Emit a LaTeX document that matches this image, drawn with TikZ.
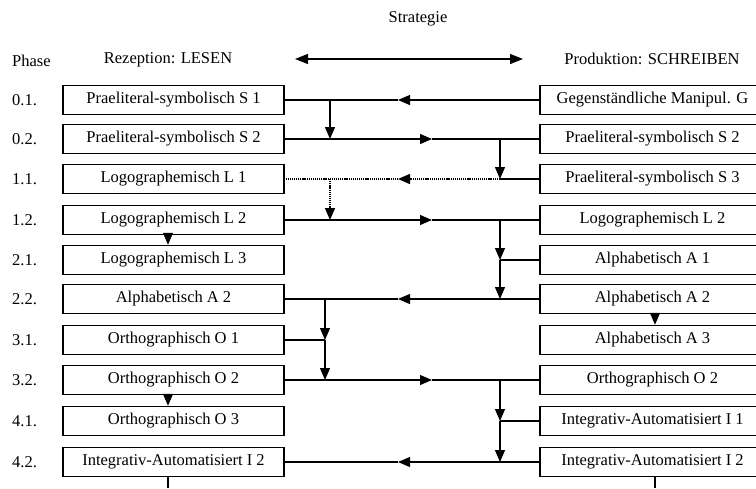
\documentclass[tikz,border=0pt]{standalone}
\usepackage{fontspec}
\setmainfont{Liberation Serif}
\usetikzlibrary{arrows.meta}
\begin{document}
\begin{tikzpicture}[x=1pt,y=-1pt,
  box/.style={draw,line width=1.5pt,minimum height=29pt,inner sep=0pt,font=\fontsize{16.5}{18}\selectfont},
  lbox/.style={box,minimum width=221pt},
  rbox/.style={box,minimum width=225pt},
  lab/.style={font=\fontsize{16.5}{18}\selectfont,inner sep=0pt},
  conn/.style={line width=1.1pt},
  dotconn/.style={conn,line width=1.4pt,dash pattern=on 1.2pt off 0.9pt},
  tip/.style={-{Triangle[length=12pt,width=10pt]}},
  dtip/.style={{Triangle[length=13pt,width=10pt]}-{Triangle[length=13pt,width=10pt]}},
]
\useasboundingbox (0,0) rectangle (756,488);
\clip (0,0) rectangle (756,488);

% header
\node[lab] (strat) at (418,19) {Strategie};
\node[lab,anchor=west] (phase) at (12,61) {Phase};
\node[lab] (rez) at (168,60) {Rezeption: LESEN};
\node[lab] (prod) at (652,59) {Produktion: SCHREIBEN};
\coordinate (hl) at (295,59);
\coordinate (hr) at (523,59);
\draw[conn,line width=1.4pt,dtip] (hl) -- (hr);

% phase labels
\foreach \t/\y [count=\i] in {0.1./100,0.2./139,1.1./179,1.2./220,2.1./260,2.2./299,3.1./340,3.2./380,4.1./421,4.2./462}
  \node[lab,anchor=west] (p\i) at (12,\y) {\t};

% left boxes
\node[lbox] (l1) at (173.5,100) {Praeliteral-symbolisch S 1};
\node[lbox] (l2) at (173.5,139) {Praeliteral-symbolisch S 2};
\node[lbox] (l3) at (173.5,179) {Logographemisch L 1};
\node[lbox] (l4) at (173.5,220) {Logographemisch L 2};
\node[lbox] (l5) at (173.5,260) {Logographemisch L 3};
\node[lbox] (l6) at (173.5,299) {Alphabetisch A 2};
\node[lbox] (l7) at (173.5,340) {Orthographisch O 1};
\node[lbox] (l8) at (173.5,380) {Orthographisch O 2};
\node[lbox] (l9) at (173.5,421) {Orthographisch O 3};
\node[lbox] (l10) at (173.5,462) {Integrativ-Automatisiert I 2};

% right boxes
\node[rbox] (r1) at (652.5,100) {Gegenständliche Manipul. G};
\node[rbox] (r2) at (652.5,139) {Praeliteral-symbolisch S 2};
\node[rbox] (r3) at (652.5,179) {Praeliteral-symbolisch S 3};
\node[rbox] (r4) at (652.5,220) {Logographemisch L 2};
\node[rbox] (r5) at (652.5,260) {Alphabetisch A 1};
\node[rbox] (r6) at (652.5,299) {Alphabetisch A 2};
\node[rbox] (r7) at (652.5,340) {Alphabetisch A 3};
\node[rbox] (r8) at (652.5,380) {Orthographisch O 2};
\node[rbox] (r9) at (652.5,421) {Integrativ-Automatisiert I 1};
\node[rbox] (r10) at (652.5,462) {Integrativ-Automatisiert I 2};

% arrow tip coordinates on horizontals
\coordinate (t1) at (398,100);
\coordinate (t2) at (432,139);
\coordinate (t3) at (398,179);
\coordinate (t4) at (432,220);
\coordinate (t6) at (398,299);
\coordinate (t8) at (432,380);
\coordinate (t10) at (398,462);
% junctions
\coordinate (ja1) at (330,100);
\coordinate (ja2) at (330,139);
\coordinate (jb2) at (500,139);
\coordinate (jb3) at (500,179);
\coordinate (ja3) at (330,179);
\coordinate (ja4) at (330,220);
\coordinate (jb4) at (500,220);
\coordinate (jb5) at (500,260);
\coordinate (jb6) at (500,299);
\coordinate (jc6) at (325,299);
\coordinate (jc7) at (325,340);
\coordinate (jc8) at (325,380);
\coordinate (jb8) at (500,380);
\coordinate (jb9) at (500,421);
\coordinate (jb10) at (500,462);
\coordinate (lx) at (168,488);
\coordinate (rx) at (655,488);

% row 0.1
\draw[conn,tip] (r1.west) -- (t1);
\draw[conn] (t1) -- (l1.east);
\draw[conn,tip] (ja1) -- (ja2);
% row 0.2
\draw[conn,tip] (l2.east) -- (t2);
\draw[conn] (t2) -- (r2.west);
\draw[conn,tip] (jb2) -- (jb3);
% row 1.1
\draw[conn] (r3.west) -- (jb3);
\draw[dotconn,tip] (jb3) -- (t3);
\draw[dotconn] (t3) -- (l3.east);
\draw[dotconn,tip] (ja3) -- (ja4);
% row 1.2
\draw[conn,tip] (l4.east) -- (t4);
\draw[conn] (t4) -- (r4.west);
\draw[conn,tip] (jb4) -- (jb5);
\draw[conn,tip] (jb5) -- (jb6);
\draw[conn] (r5.west) -- (jb5);
\draw[conn,tip] (l4.south -| lx) -- (l5.north -| lx);
% row 2.2
\draw[conn,tip] (r6.west) -- (t6);
\draw[conn] (t6) -- (l6.east);
\draw[conn,tip] (r6.south -| rx) -- (r7.north -| rx);
\draw[conn,tip] (jc6) -- (jc7);
\draw[conn,tip] (jc7) -- (jc8);
\draw[conn] (l7.east) -- (jc7);
% row 3.2
\draw[conn,tip] (l8.east) -- (t8);
\draw[conn] (t8) -- (r8.west);
\draw[conn,tip] (l8.south -| lx) -- (l9.north -| lx);
\draw[conn,tip] (jb8) -- (jb9);
\draw[conn,tip] (jb9) -- (jb10);
\draw[conn] (r9.west) -- (jb9);
% row 4.2
\draw[conn,tip] (r10.west) -- (t10);
\draw[conn] (t10) -- (l10.east);
\draw[conn] (l10.south -| lx) -- (lx);
\draw[conn] (r10.south -| rx) -- (rx);
\end{tikzpicture}
\end{document}
